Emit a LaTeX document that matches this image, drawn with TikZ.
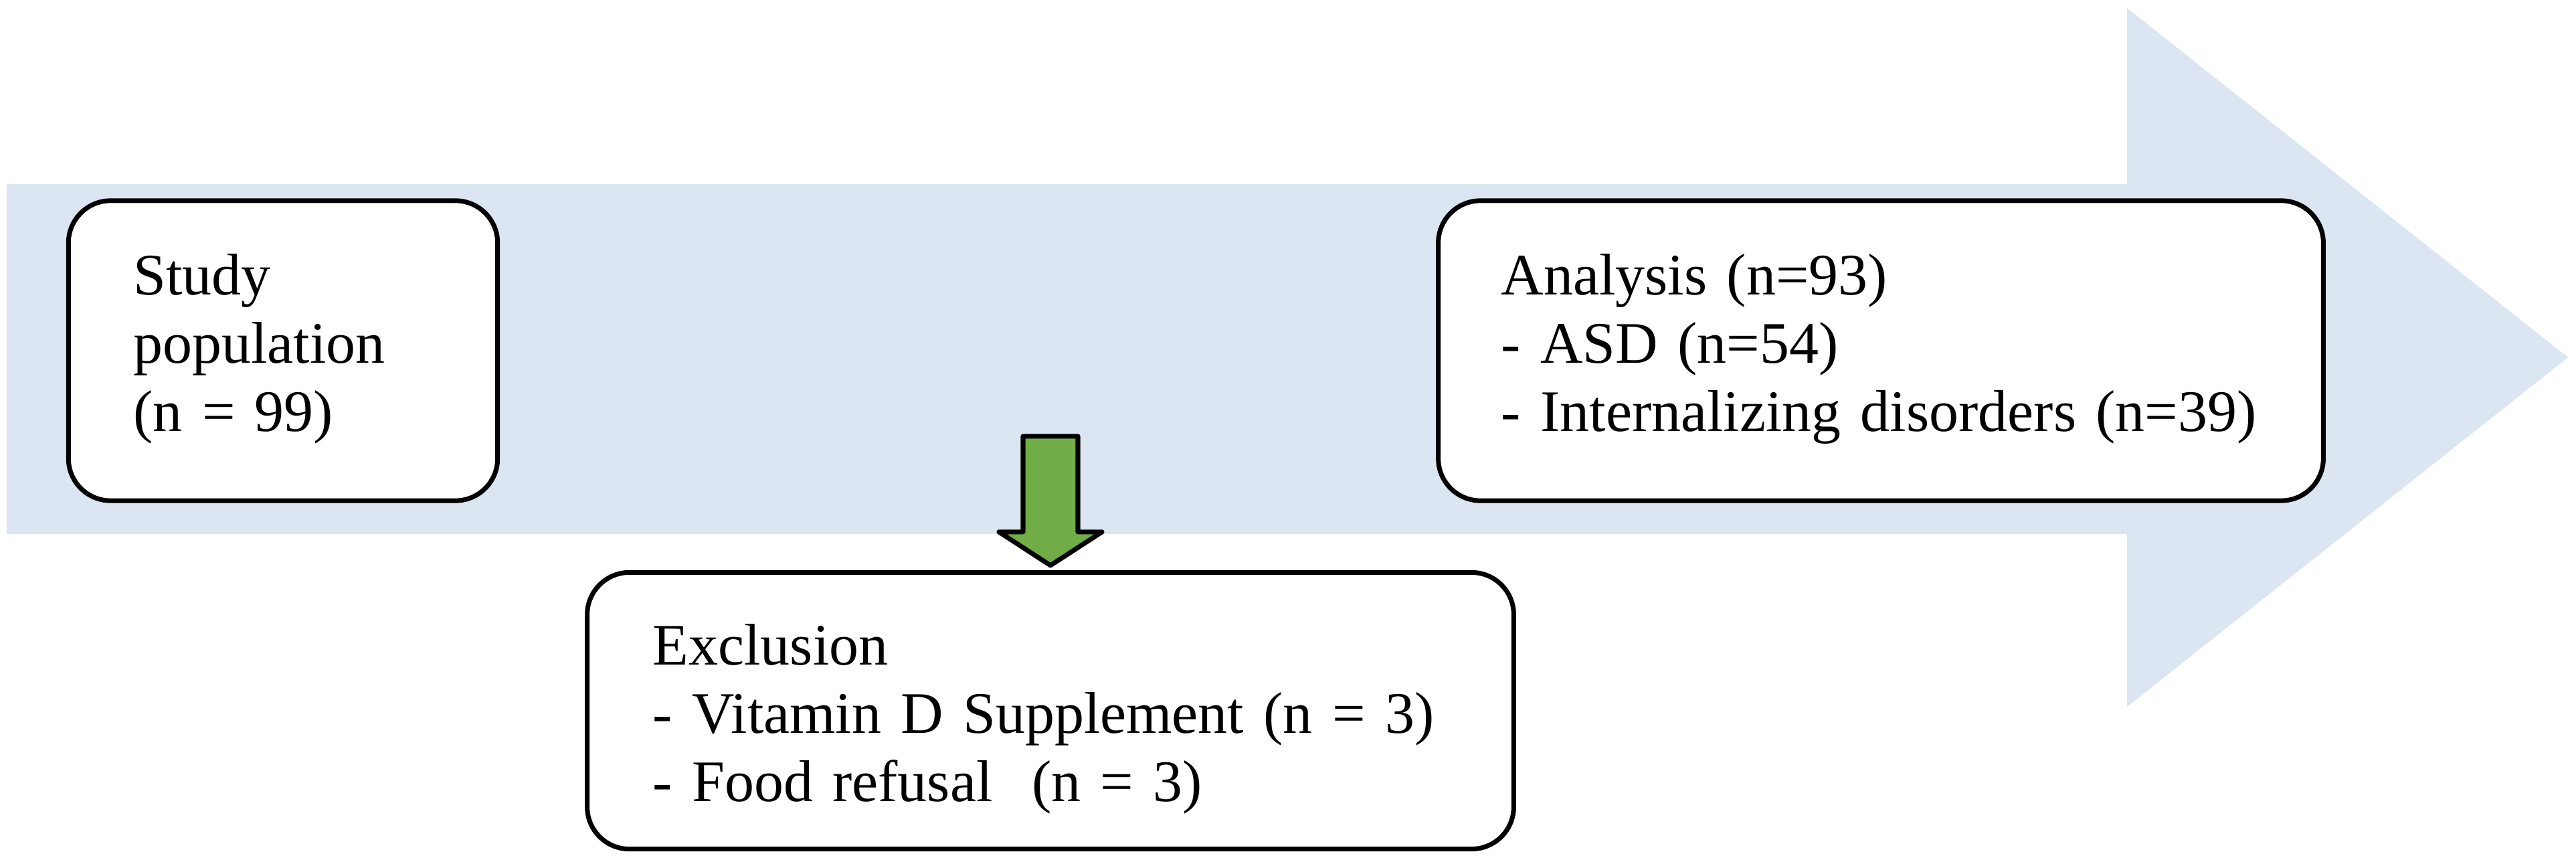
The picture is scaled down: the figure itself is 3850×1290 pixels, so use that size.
\documentclass[tikz,border=0pt]{standalone}
\usepackage{fontspec}
\setmainfont{Liberation Serif}
\definecolor{flowblue}{HTML}{DCE6F2}
\definecolor{flowgreen}{HTML}{70AD47}
\tikzset{
  box/.style={draw, line width=2pt, fill=white, rounded corners=0.63cm, inner sep=0pt},
  boxtext/.style={anchor=base west, inner sep=0pt, align=left, text width=12cm,
    font=\fontsize{25}{29}\selectfont},
  blockarrow/.style={draw, line width=2pt, line join=round, fill=flowgreen}
}
\begin{document}
\begin{tikzpicture}[x=0.01cm, y=-0.01cm]
      \useasboundingbox (0,0) rectangle (3850,1290);
      \fill[flowblue] (10,275) -- (3179,275) -- (3179,12) -- (3838,534)
        -- (3179,1056) -- (3179,798) -- (10,798) -- cycle;
      \draw
        (423,524) node[box, minimum width=6.41cm, minimum height=4.48cm] (study){}
        (2811,524) node[box, minimum width=13.22cm, minimum height=4.48cm] (analysis){}
        (1570,1062) node[box, minimum width=13.84cm, minimum height=4.13cm] (exclusion){};
      \node[boxtext] (studytext) at ([shift={(100,144)}]study.north west)
        {Study\\population\\(n = 99)};
      \node[boxtext] (analysistext) at ([shift={(97,144)}]analysis.north west)
        {Analysis (n=93)\\- ASD (n=54)\\- Internalizing disorders (n=39)};
      \node[boxtext] (exclusiontext) at ([shift={(101,142)}]exclusion.north west)
        {Exclusion\\- Vitamin D Supplement (n = 3)\\- Food refusal\ \ (n = 3)};
      \coordinate (greentip) at ([yshift=2pt]exclusion.north);
      \draw[blockarrow] (greentip) -- ++(-77,-50) -- ++(36,0) -- ++(0,-143)
        -- ++(82,0) -- ++(0,143) -- ++(36,0) -- cycle;
    \end{tikzpicture}
\end{document}
